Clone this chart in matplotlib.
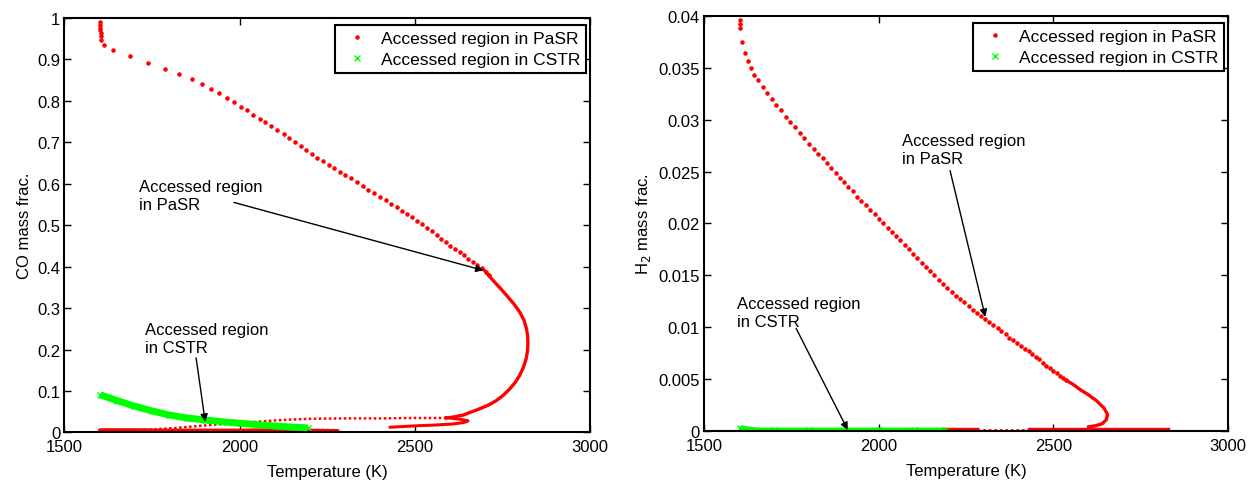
import numpy as np
import matplotlib
matplotlib.use('Agg')
import matplotlib.pyplot as plt

plt.rcParams['font.family'] = ['Liberation Sans', 'DejaVu Sans']
plt.rcParams['font.size'] = 12

RED = '#ff0000'
GREEN = '#00ff00'

# ---------------- left panel: CO mass fraction ----------------
# PaSR, sparse dotted part (upper branch)
co_dots_T = [1603, 1603, 1603, 1603, 1604, 1604, 1605, 1613, 1639, 1686, 1738, 1786, 1828,
             1863, 1892, 1918, 1941, 1963, 1984, 2004, 2021, 2039, 2057, 2074, 2091,
             2108, 2126, 2142, 2158, 2175, 2191, 2207, 2222, 2238, 2254, 2270, 2286,
             2302, 2319, 2335, 2352, 2368, 2385, 2401, 2417, 2432, 2448, 2463, 2478,
             2493, 2507, 2521, 2535, 2549, 2563, 2576, 2589, 2602, 2615, 2628, 2640,
             2653, 2665, 2678, 2691, 2702, 2712]
co_dots_Y = [0.991, 0.984, 0.977, 0.970, 0.963, 0.956, 0.946, 0.936, 0.923, 0.908, 0.892, 0.878, 0.864,
             0.852, 0.840, 0.829, 0.818, 0.807, 0.797, 0.786, 0.777, 0.766, 0.757, 0.748, 0.739,
             0.729, 0.719, 0.710, 0.700, 0.691, 0.682, 0.672, 0.663, 0.654, 0.645, 0.637, 0.629,
             0.621, 0.613, 0.604, 0.595, 0.586, 0.577, 0.569, 0.560, 0.551, 0.543, 0.535, 0.527,
             0.519, 0.511, 0.502, 0.494, 0.485, 0.476, 0.467, 0.459, 0.451, 0.443, 0.435, 0.427,
             0.419, 0.411, 0.404, 0.396, 0.388, 0.379]
# PaSR, dense loop
co_loop_T = [2700, 2719, 2742, 2763, 2783, 2800, 2812, 2819, 2822, 2823, 2822, 2818, 2810,
             2799, 2786, 2771, 2753, 2733, 2710, 2685, 2660, 2638, 2615, 2600, 2590]
co_loop_Y = [0.390, 0.371, 0.350, 0.330, 0.310, 0.290, 0.270, 0.250, 0.234, 0.218, 0.198, 0.178, 0.157,
             0.137, 0.120, 0.105, 0.090, 0.077, 0.066, 0.057, 0.049, 0.042, 0.038, 0.036, 0.035]
# PaSR, hook below the loop
co_hook_T = [2590, 2630, 2652, 2640, 2609, 2560, 2514, 2470, 2429]
co_hook_Y = [0.036, 0.032, 0.028, 0.024, 0.0205, 0.018, 0.0165, 0.0145, 0.0126]
# PaSR, thin dotted branch going back to low temperature
co_tail_T = [2590, 2500, 2400, 2300, 2200, 2143, 2100, 2002, 1950, 1887, 1820, 1763, 1700, 1668]
co_tail_Y = [0.035, 0.035, 0.034, 0.034, 0.033, 0.031, 0.029, 0.023, 0.020, 0.016, 0.011, 0.008, 0.005, 0.004]
# PaSR, band along the bottom
co_base_T = [1602, 1700, 1800, 1900, 2000, 2100, 2200, 2280]
co_base_Y = [0.005, 0.005, 0.004, 0.004, 0.004, 0.005, 0.004, 0.003]
# CSTR
co_cstr_T = [1602, 1650, 1698, 1750, 1800, 1850, 1902, 1950, 2003, 2050, 2105, 2150, 2195]
co_cstr_Y = [0.091, 0.077, 0.064, 0.052, 0.042, 0.035, 0.030, 0.026, 0.022, 0.019, 0.0155, 0.013, 0.011]

# ---------------- right panel: H2 mass fraction ----------------
h2_dots_T = [1602, 1602, 1602, 1607, 1616, 1624, 1633, 1643, 1655, 1667, 1680, 1693, 1706,
             1720, 1733, 1746, 1761, 1774, 1787, 1801, 1814, 1826, 1839, 1852, 1864,
             1876, 1889, 1901, 1913, 1925, 1938, 1950, 1962, 1975, 1988, 2000, 2012,
             2025, 2037, 2049, 2061, 2074, 2086, 2098, 2110, 2123, 2135, 2147, 2159,
             2172, 2184, 2196, 2209, 2221, 2233, 2245, 2257, 2269, 2281, 2293, 2305,
             2316, 2328, 2340, 2351, 2363, 2374, 2385, 2396, 2407, 2418, 2429, 2440,
             2450, 2460, 2470, 2480, 2490, 2500, 2509, 2518, 2527, 2536]
h2_dots_Y = [0.0396, 0.0392, 0.0388, 0.0375, 0.0364, 0.0357, 0.0350, 0.0343, 0.0338, 0.0332, 0.0326, 0.0320, 0.0314,
             0.0309, 0.0303, 0.0298, 0.0293, 0.0287, 0.0282, 0.0277, 0.0272, 0.0267, 0.0263, 0.0258, 0.0253,
             0.0249, 0.0244, 0.0240, 0.0235, 0.0231, 0.0226, 0.0222, 0.0218, 0.0213, 0.0209, 0.0204, 0.0200,
             0.0196, 0.0192, 0.0188, 0.0184, 0.0179, 0.0175, 0.0171, 0.0167, 0.0162, 0.0158, 0.0154, 0.0150,
             0.0146, 0.0142, 0.0138, 0.0134, 0.0130, 0.0127, 0.0124, 0.0120, 0.0117, 0.0114, 0.0111, 0.0108,
             0.0105, 0.0102, 0.0099, 0.0096, 0.0093, 0.0090, 0.0088, 0.0085, 0.0082, 0.0079, 0.0077, 0.0074,
             0.0071, 0.0069, 0.0066, 0.0063, 0.0061, 0.0058, 0.0056, 0.0053, 0.0051, 0.0049]
h2_loop_T = [2536, 2556, 2576, 2600, 2624, 2645, 2655, 2652, 2640, 2620, 2600]
h2_loop_Y = [0.0049, 0.0045, 0.0040, 0.0035, 0.0029, 0.0022, 0.0016, 0.0011, 0.0007, 0.0005, 0.0004]
h2_base1_T = [2190, 2235, 2280]
h2_base1_Y = [0.0001, 0.0001, 0.0001]
h2_base_dot_T = [2280, 2350, 2433]
h2_base_dot_Y = [0.0001, 0.0001, 0.0001]
h2_base2_T = [2433, 2500, 2600, 2700, 2829]
h2_base2_Y = [0.0001, 0.0001, 0.0001, 0.0001, 0.0001]
h2_cstr_T = [1602, 1650, 1700, 1800, 1900, 2000, 2100, 2190]
h2_cstr_Y = [0.0003, 0.0001, 0.0001, 0.0001, 0.0001, 0.0001, 0.0001, 0.0001]

x_ticks = [1500, 2000, 2500, 3000]
co_ticks = [0, 0.1, 0.2, 0.3, 0.4, 0.5, 0.6, 0.7, 0.8, 0.9, 1]
co_labels = ['0', '0.1', '0.2', '0.3', '0.4', '0.5', '0.6', '0.7', '0.8', '0.9', '1']
h2_ticks = [0, 0.005, 0.01, 0.015, 0.02, 0.025, 0.03, 0.035, 0.04]
h2_labels = ['0', '0.005', '0.01', '0.015', '0.02', '0.025', '0.03', '0.035', '0.04']

fig = plt.figure(figsize=(12.52, 4.81), dpi=100)
ax1 = fig.add_axes([0.0514, 0.0988, 0.4198, 0.8617])
ax2 = fig.add_axes([0.5625, 0.1019, 0.4183, 0.8628])

arrow = dict(arrowstyle='-|>', color='k', lw=1, mutation_scale=11, shrinkA=0, shrinkB=0)

# left
ax1.plot(co_base_T, co_base_Y, color=RED, lw=3.2, solid_capstyle='round')
ax1.plot(co_tail_T, co_tail_Y, color=RED, lw=1.8, linestyle=(0, (1, 1)))
ax1.plot(co_hook_T, co_hook_Y, color=RED, lw=2.2, solid_capstyle='round')
ax1.plot(co_loop_T, co_loop_Y, color=RED, lw=2.4)
ax1.plot(co_dots_T, co_dots_Y, '.', color=RED, ms=4.5, label='Accessed region in PaSR')
ax1.plot(co_cstr_T, co_cstr_Y, color=GREEN, lw=5, solid_capstyle='butt')
ax1.plot(co_cstr_T, co_cstr_Y, 'x', color=GREEN, ms=4, mew=1, label='Accessed region in CSTR')
ax1.text(1714, 0.612, 'Accessed region\nin PaSR', ha='left', va='top', fontsize=12, linespacing=1.25)
ax1.annotate('', xy=(2696, 0.391), xytext=(1984, 0.555), arrowprops=arrow)
ax1.text(1729, 0.266, 'Accessed region\nin CSTR', ha='left', va='top', fontsize=12, linespacing=1.25)
ax1.annotate('', xy=(1902, 0.026), xytext=(1876, 0.180), arrowprops=arrow)
ax1.set_xlim(1500, 3000)
ax1.set_ylim(0, 1)
ax1.set_yticks(co_ticks)
ax1.set_yticklabels(co_labels)
ax1.set_ylabel('CO mass frac.')

# right
ax2.plot(h2_base1_T, h2_base1_Y, color=RED, lw=3.2)
ax2.plot(h2_base_dot_T, h2_base_dot_Y, color=RED, lw=2, linestyle=(0, (1, 1)))
ax2.plot(h2_base2_T, h2_base2_Y, color=RED, lw=3.2)
ax2.plot(h2_loop_T, h2_loop_Y, color=RED, lw=2.4, solid_capstyle='round')
ax2.plot(h2_dots_T, h2_dots_Y, '.', color=RED, ms=4.5, label='Accessed region in PaSR')
ax2.plot(h2_cstr_T, h2_cstr_Y, color=GREEN, lw=3.5, solid_capstyle='butt')
ax2.plot(h2_cstr_T, h2_cstr_Y, 'x', color=GREEN, ms=4, mew=1, label='Accessed region in CSTR')
ax2.text(2066, 0.0287, 'Accessed region\nin PaSR', ha='left', va='top', fontsize=12, linespacing=1.25)
ax2.annotate('', xy=(2305, 0.0110), xytext=(2204, 0.0251), arrowprops=arrow)
ax2.text(1594, 0.0130, 'Accessed region\nin CSTR', ha='left', va='top', fontsize=12, linespacing=1.25)
ax2.annotate('', xy=(1911, 0.0001), xytext=(1763, 0.0099), arrowprops=arrow)
ax2.set_xlim(1500, 3000)
ax2.set_ylim(0, 0.04)
ax2.set_yticks(h2_ticks)
ax2.set_yticklabels(h2_labels)
ax2.set_ylabel('H$_2$ mass frac.')

for ax in (ax1, ax2):
    ax.set_xticks(x_ticks)
    ax.set_xlabel('Temperature (K)', labelpad=7)
    ax.tick_params(direction='in', top=True, right=True, length=5, width=1, labelsize=12)
    ax.tick_params(axis='x', pad=5)
    ax.tick_params(axis='y', pad=3)
    for s in ax.spines.values():
        s.set_linewidth(1.5)
    leg = ax.legend(loc='upper right', bbox_to_anchor=(0.993, 0.983), borderaxespad=0,
                    fancybox=False, edgecolor='k', framealpha=1, fontsize=12.5,
                    handlelength=1.8, handletextpad=0.5, borderpad=0.35, labelspacing=0.3)
    leg.get_frame().set_linewidth(1.5)

fig.savefig('out.png', dpi=100)
